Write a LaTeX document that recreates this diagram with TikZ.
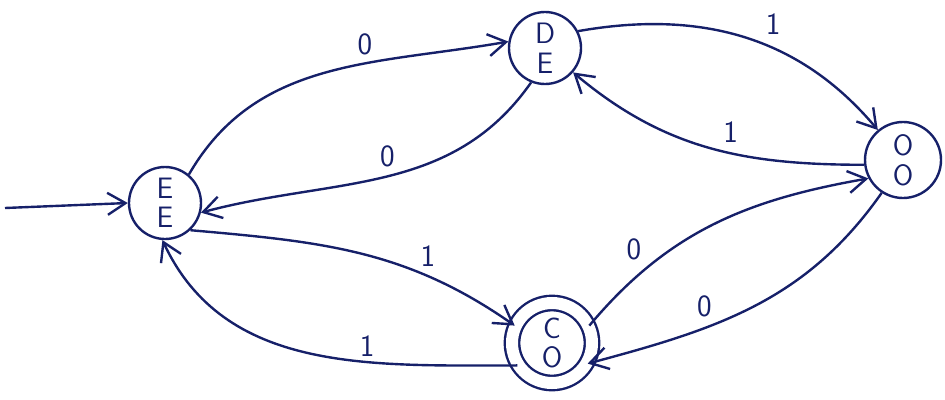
\documentclass[tikz,border=0pt]{standalone}
\usepackage{xcolor}
\usepackage{tikz}
\usetikzlibrary{positioning, arrows.meta}
\definecolor{InkBlue}{RGB}{22,32,105}
\tikzset{
  statebox/.style={circle, draw=InkBlue, line width=1.7pt, minimum size=1.8cm, inner sep=0pt,
    align=center, text=InkBlue, font=\sffamily\fontsize{21}{21}\selectfont},
  accbox/.style={statebox, double=white, double distance=0.3cm, minimum size=2.0cm},
  arr/.style={-{Straight Barb[length=4.5mm, width=5.5mm]}, line width=1.7pt, InkBlue},
  lbl/.style={font=\sffamily\fontsize{22}{24}\selectfont, text=InkBlue, inner sep=3pt},
}

\begin{document}
\begin{tikzpicture}
  \useasboundingbox (0,0) rectangle (23.625,9.975);
  % states
  \node[statebox] (EE) at (4.125,4.9) {E\\E};
  \node[statebox] (DE) at (13.625,8.775) {D\\E};
  \node[statebox, minimum size=1.9cm] (OO) at (22.575,5.975) {O\\O};
  \node[accbox] (CO) at (13.8,1.4) {C\\O};
  \coordinate (start) at (0.125,4.775);
  % transitions
  \draw[arr] (start) -- (EE.west);
  \draw[arr] (EE.50) to[out=60, in=190] node[lbl, pos=0.62, above=2pt] {0} (DE.170);
  \draw[arr] (DE.248) to[out=235, in=15] node[lbl, pos=0.45, above left=0pt and 2pt] {0} (EE.345);
  \draw[arr] (DE.27) to[out=10, in=130] node[lbl, pos=0.55, above right=2pt] {1} (OO.130);
  \draw[arr] (OO.187) to[out=180, in=-40] node[lbl, pos=0.42, above=4pt] {1} (DE.319);
  \draw[arr] (EE.313) to[out=-5, in=145] node[lbl, pos=0.72, above=3pt] {1} (CO.155);
  \draw[arr] (CO.213) to[out=180, in=295] node[lbl, pos=0.35, above=0pt] {1} (EE.266);
  \draw[arr] (CO.25) to[out=50, in=190] node[lbl, pos=0.25, above left=0pt and 2pt] {0} (OO.208);
  \draw[arr] (OO.237) to[out=235, in=15] node[lbl, pos=0.62, above left=0pt and 1pt] {0} (CO.330);
\end{tikzpicture}
\end{document}
